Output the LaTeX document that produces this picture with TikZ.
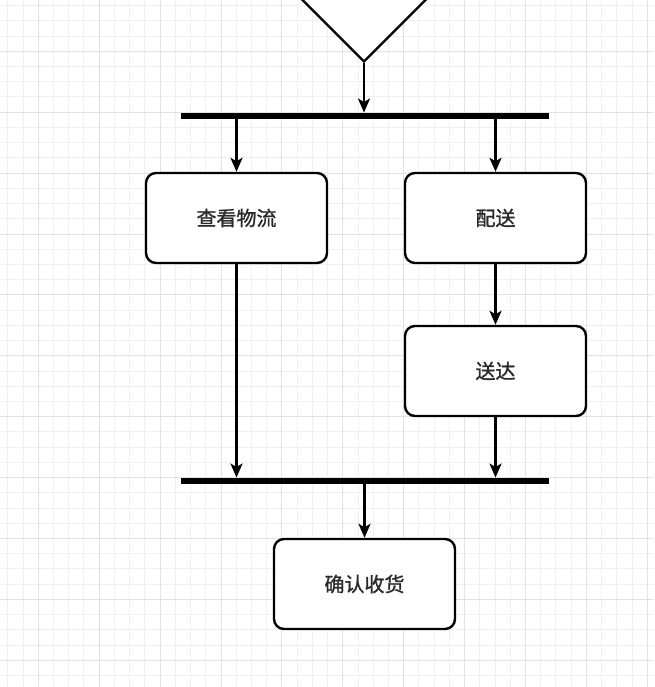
\documentclass[tikz,border=0pt]{standalone}
\usepackage{fontspec}
\newfontfamily\cjk[FakeBold=1.2]{Noto Sans CJK SC}
\usetikzlibrary{shapes.geometric,arrows.meta}
\definecolor{minorgrid}{HTML}{F0F0F0}
\definecolor{majorgrid}{HTML}{E2E2E2}
\definecolor{txt}{HTML}{2A2A2A}
\begin{document}
\begin{tikzpicture}[x=1pt,y=-1pt,
  box/.style={draw, line width=2.4pt, rounded corners=10pt, minimum width=181pt,
    minimum height=90pt, fill=white, inner sep=0pt,
    font=\cjk\fontsize{20}{20}\selectfont, text=txt},
  bar/.style={fill=black, minimum width=368pt, minimum height=6.5pt, inner sep=0pt},
  arr/.style={line width=2.4pt, -{Stealth[length=14pt,width=12pt,inset=3.5pt]}},
  minorline/.style={draw=minorgrid, line width=1pt},
  majorline/.style={draw=majorgrid, line width=1pt}
]
\useasboundingbox (0,0) rectangle (654,687);
\fill[white] (0,0) rectangle (654,687);
% grid
\foreach \i in {-3,...,43} {
  \draw[minorline] ({38.3+15.225*\i},0) -- ({38.3+15.225*\i},687);
  \draw[minorline] (0,{51.3+15.225*\i}) -- (654,{51.3+15.225*\i});
}
\foreach \i in {-1,...,11} {
  \draw[majorline] ({38.3+60.9*\i},0) -- ({38.3+60.9*\i},687);
  \draw[majorline] (0,{51.3+60.9*\i}) -- (654,{51.3+60.9*\i});
}
% shapes
\node[draw, diamond, line width=2.4pt, fill=white, minimum width=160pt, minimum height=160pt, inner sep=0pt] (dia) at (364,-18) {};
\node[bar] (bar1) at (365,116) {};
\node[bar] (bar2) at (365,481) {};
\node[box] (b1) at (236.5,218) {查看物流};
\node[box] (b2) at (495.5,218) {配送};
\node[box] (b3) at (495.5,371) {送达};
\node[box] (b4) at (364.5,584) {确认收货};
% connectors
\draw[arr] (dia.south) -- (dia.south |- bar1.north);
\draw[arr] (b1.north |- bar1.south) -- (b1.north);
\draw[arr] (b2.north |- bar1.south) -- (b2.north);
\draw[arr] (b2.south) -- (b3.north);
\draw[arr] (b1.south) -- (b1.south |- bar2.north);
\draw[arr] (b3.south) -- (b3.south |- bar2.north);
\draw[arr] (b4.north |- bar2.south) -- (b4.north);
\end{tikzpicture}
\end{document}
